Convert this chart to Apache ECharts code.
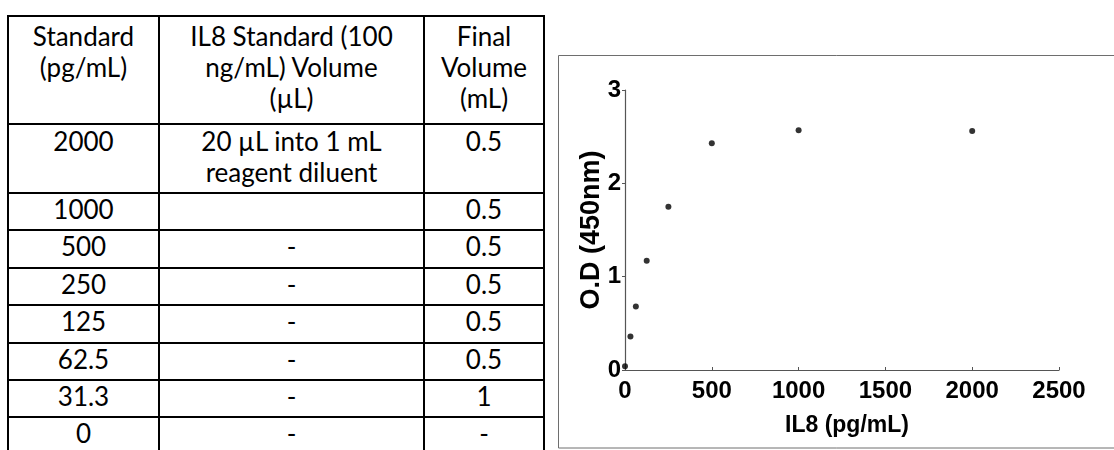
<!DOCTYPE html>
<html>
<head>
<meta charset="utf-8">
<script src="https://cdn.jsdelivr.net/npm/echarts@6/dist/echarts.min.js"></script>
<style>
  html, body { margin: 0; padding: 0; background: #fff; width: 1114px; height: 450px; overflow: hidden; position: relative; }
  #prep {
    position: absolute; left: 7px; top: 15px;
    border-collapse: collapse; table-layout: fixed;
    font-family: Lato, "Open Sans", sans-serif; font-size: 26px; line-height: 31px; color: #000;
  }
  #prep td { border: 2px solid #000; text-align: center; vertical-align: top; padding: 0 2px; overflow: hidden; white-space: nowrap; }
  #prep tr.head td { height: 102px; padding-top: 4px; }
  #prep tr.two td { height: 66px; padding-top: 1px; }
  #prep tr.one td { height: 35.4px; }
  #chart { position: absolute; left: 558px; top: 55px; width: 556px; height: 395px; }
</style>
</head>
<body>
<table id="prep">
  <colgroup><col style="width:151px"><col style="width:265px"><col style="width:120px"></colgroup>
  <tbody id="prepBody"></tbody>
</table>
<div id="chart"></div>
<script>
// Dilution series for the IL8 standard curve
const headers = ['Standard<br>(pg/mL)', 'IL8 Standard (100<br>ng/mL) Volume<br>(\u00b5L)', 'Final<br>Volume<br>(mL)'];
const standards = ['2000', '1000', '500', '250', '125', '62.5', '31.3', '0'];
const standardVolumes = ['20 \u00b5L into 1 mL<br>reagent diluent', '', '-', '-', '-', '-', '-', '-'];
const finalVolumes = ['0.5', '0.5', '0.5', '0.5', '0.5', '0.5', '1', '-'];

// Measured absorbance at each standard concentration
const concentration = [0, 31.3, 62.5, 125, 250, 500, 1000, 2000];
const opticalDensity = [0.04, 0.36, 0.68, 1.17, 1.75, 2.43, 2.57, 2.56];

const xTicks = { min: 0, max: 2500, interval: 500 };
const yTicks = { min: 0, max: 3, interval: 1 };

// Build the preparation table
const body = document.getElementById('prepBody');
let html = '<tr class="head">' + headers.map(h => '<td>' + h + '</td>').join('') + '</tr>';
standards.forEach((s, i) => {
  const cls = standardVolumes[i].indexOf('<br>') >= 0 ? 'two' : 'one';
  html += '<tr class="' + cls + '"><td>' + s + '</td><td>' + standardVolumes[i] + '</td><td>' + finalVolumes[i] + '</td></tr>';
});
body.innerHTML = html;

// Standard curve scatter plot
const chart = echarts.init(document.getElementById('chart'), null, { renderer: 'canvas' });
const axisFont = { fontFamily: '"Liberation Sans", Arial, sans-serif', fontWeight: 'bold', color: '#000' };
chart.setOption({
  animation: false,
  backgroundColor: '#fff',
  graphic: [{
    type: 'rect', silent: true, z: -1,
    shape: { x: 0.5, y: 0.5, width: 620, height: 392.5 },
    style: { fill: 'none', stroke: '#6e6e6e', lineWidth: 1 }
  }],
  grid: { left: 67, top: 35, width: 434, height: 280, containLabel: false },
  xAxis: {
    type: 'value', min: xTicks.min, max: xTicks.max, interval: xTicks.interval,
    name: 'IL8 (pg/mL)', nameLocation: 'middle', nameGap: 44, nameMoveOverlap: false,
    nameTextStyle: Object.assign({ fontSize: 23, padding: [0, 0, 0, 10] }, axisFont),
    axisLine: { show: true, lineStyle: { color: '#555', width: 1.2 } },
    axisTick: { show: true, inside: true, length: 3, lineStyle: { color: '#555' } },
    axisLabel: Object.assign({ fontSize: 24, margin: 9, formatter: v => String(v) }, axisFont),
    splitLine: { show: false }
  },
  yAxis: {
    type: 'value', min: yTicks.min, max: yTicks.max, interval: yTicks.interval,
    name: 'O.D (450nm)', nameLocation: 'middle', nameGap: 20, nameRotate: 90, nameMoveOverlap: false,
    nameTextStyle: Object.assign({ fontSize: 27 }, axisFont),
    axisLine: { show: true, lineStyle: { color: '#555', width: 1.2 } },
    axisTick: { show: true, inside: false, length: 3, lineStyle: { color: '#555' } },
    axisLabel: Object.assign({ fontSize: 24, margin: 4, formatter: v => String(v) }, axisFont),
    splitLine: { show: false }
  },
  series: [{
    type: 'scatter',
    symbol: 'circle',
    symbolSize: 6,
    itemStyle: { color: '#000' },
    data: concentration.map((c, i) => [c, opticalDensity[i]])
  }]
});
</script>
</body>
</html>
